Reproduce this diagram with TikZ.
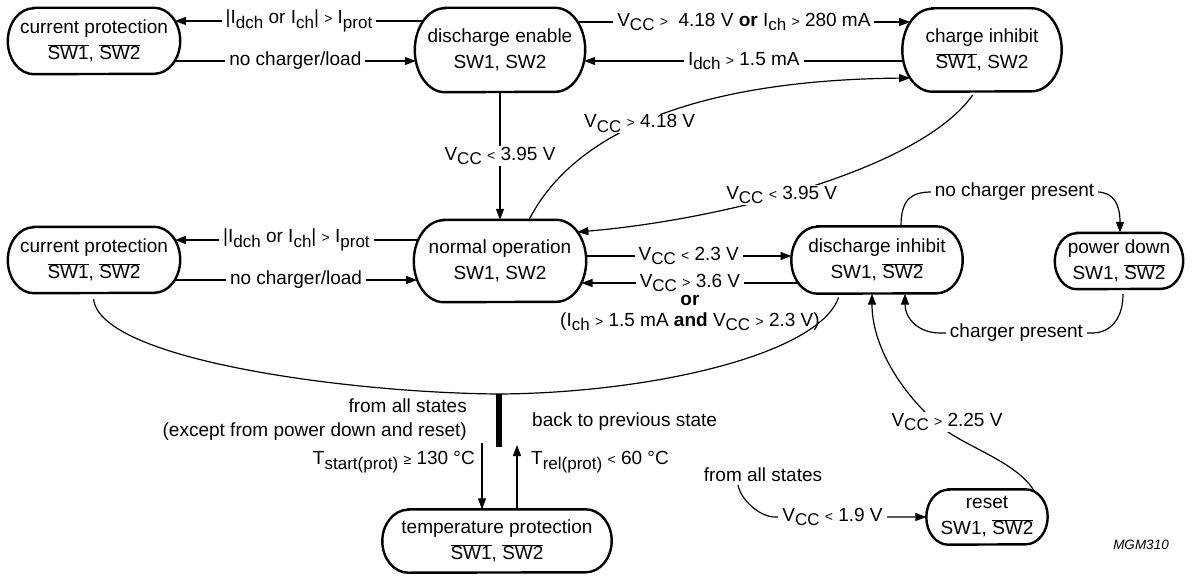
\documentclass[tikz,border=0pt]{standalone}
\usepackage{fontspec}
\setmainfont{Liberation Sans}
\usetikzlibrary{arrows.meta,calc}
\newcommand\sbs[1]{\raisebox{-0.45ex}{\fontsize{17}{17}\selectfont #1}}
\newcommand\rgt{{\fontsize{14}{14}\selectfont >}}
\newcommand\rlt{{\fontsize{14}{14}\selectfont <}}
\newcommand\rge{{\fontsize{14}{14}\selectfont ≥}}
\newcommand\ov[1]{$\overline{\mbox{#1}}$}
\begin{document}
\begin{tikzpicture}[x=1pt,y=-1pt,
  font=\fontsize{19}{26}\selectfont,
  box/.style={inner sep=0pt, align=center},
  boxline/.style={line width=2.4pt},
  conn/.style={line width=1.2pt, -{Triangle[length=11pt,width=8pt]}},
  plain/.style={line width=1.2pt},
  lbl/.style={fill=white, inner xsep=4pt, inner ysep=1pt}]
\useasboundingbox (0,0) rectangle (1192,578);

% states
\node[box, minimum width=172pt, minimum height=66pt] (cpa) at (94,41) {current protection\\\ov{SW1}, \ov{SW2}};
\node[box, minimum width=170pt, minimum height=84pt] (de) at (500,50) {discharge enable\\SW1, SW2};
\node[box, minimum width=159pt, minimum height=83pt] (ci) at (982,50) {charge inhibit\\\ov{SW1}, SW2};
\node[box, minimum width=172pt, minimum height=66pt] (cpb) at (94,260) {current protection\\\ov{SW1}, \ov{SW2}};
\node[box, minimum width=172pt, minimum height=82pt] (no) at (500,261) {normal operation\\SW1, SW2};
\node[box, minimum width=171pt, minimum height=67pt] (di) at (877,260) {discharge inhibit\\SW1, \ov{SW2}};
\node[box, minimum width=128pt, minimum height=56pt] (pd) at (1119,261) {power down\\SW1, \ov{SW2}};
\node[box, minimum width=229pt, minimum height=63pt] (tp) at (497,541) {temperature protection\\\ov{SW1}, \ov{SW2}};
\node[box, minimum width=121pt, minimum height=55pt] (rs) at (987,517) {reset\\SW1, \ov{SW2}};

\foreach \n/\rx/\ry in {cpa/26/33, de/30/42, ci/30/41.5, cpb/26/33, no/30/41, di/26/33.5, pd/22/28, tp/26/31.5, rs/22/27.5}
  \draw[boxline] ($(\n.north west)+(\rx,0)$) -- ($(\n.north east)+(-\rx,0)$)
     arc[start angle=90,end angle=-90,x radius=\rx pt,y radius=\ry pt]
     -- ($(\n.south west)+(\rx,0)$)
     arc[start angle=270,end angle=90,x radius=\rx pt,y radius=\ry pt] -- cycle;

% top row
\draw[conn] ($(de.west)+(8.3,-29)$) -- node[lbl]{|I\sbs{dch} or I\sbs{ch}| \rgt{} I\sbs{prot}} ($(cpa.east)+(-5.3,-20)$);
\draw[conn] ($(cpa.east)+(-5.3,20)$) -- node[lbl]{no charger/load} ($(de.west)+(1,11)$);
\draw[conn] ($(de.east)+(-7.6,-28)$) -- node[lbl]{V\sbs{CC} \rgt{}\ \ 4.18 V \textbf{or} I\sbs{ch} \rgt{} 280 mA} ($(ci.west)+(7.9,-28)$);
\draw[conn] ($(ci.west)+(1.1,11)$) -- node[lbl]{I\sbs{dch} \rgt{} 1.5 mA} ($(de.east)+(-1,11)$);

% vertical and curves between top and middle
\draw[conn] (de.south) -- node[lbl]{V\sbs{CC} \rlt{} 3.95 V} (no.north);
\draw[conn] ($(no.north)+(29,0)$) .. controls (575,130) and (700,80) .. node[lbl,pos=0.45]{V\sbs{CC} \rgt{} 4.18 V} ($(ci.west)+(7.9,28)$);
\draw[conn, shorten <=4pt] ($(ci.south)+(-7,0)$) .. controls (920,170) and (720,220) .. node[lbl,pos=0.56]{V\sbs{CC} \rlt{} 3.95 V} ($(no.east)+(-8.8,-29)$);

% middle row
\draw[conn] ($(no.west)+(4.2,-21)$) -- node[lbl]{|I\sbs{dch} or I\sbs{ch}| \rgt{} I\sbs{prot}} ($(cpb.east)+(-5.3,-20)$);
\draw[conn] ($(cpb.east)+(-5.3,20)$) -- node[lbl]{no charger/load} ($(no.west)+(3.4,19)$);
\draw[conn] ($(no.east)+(-0.2,-5)$) -- node[lbl]{V\sbs{CC} \rlt{} 2.3 V} ($(di.west)+(0.2,-4)$);
\draw[conn] ($(di.west)+(7.1,23)$) -- node[lbl](l36){V\sbs{CC} \rgt{} 3.6 V} ($(no.east)+(-4.7,22)$);
\node[anchor=north, align=center, inner sep=0pt, font=\fontsize{19}{21}\selectfont] (orl) at ([yshift=-1pt]l36.south) {\textbf{or}\\(I\sbs{ch} \rgt{} 1.5 mA \textbf{and} V\sbs{CC} \rgt{} 2.3 V)};

\draw[conn] ($(di.north)+(24,0)$) .. controls +(0,-28) and (912,192) .. (932,192) -- node[lbl]{no charger present} (1097,192) .. controls (1114,192) and (1120,205) .. ($(pd.north)+(1,0)$);
\draw[conn, shorten <=5pt] ($(pd.south)+(4,0)$) .. controls +(0,32) and (1108,333) .. (1093,333) -- node[lbl]{charger present} (940,333) .. controls (918,333) and (905,318) .. ($(di.south)+(28,0)$);

% collecting curve and bar
\coordinate (bt) at (499,394);
\coordinate (bb) at (499,447);
\draw[plain, shorten <=6pt, shorten >=4pt] ($(cpb.south)+(-1,0)$) .. controls (100,360) and (350,393) .. (bt) .. controls (650,393) and (818,355) .. ($(di.south)+(-37,0)$);
\draw[line width=6pt] (bt) -- (bb);

\node[anchor=east, align=right, inner sep=0pt, font=\fontsize{19}{24}\selectfont] (fas1) at (467,420) {from all states\\(except from power down and reset)};
\node[anchor=west, inner sep=0pt] (back) at (532,422) {back to previous state};

\coordinate (tsa) at (482,443);
\coordinate (tra) at (517,445);
\draw[conn] (tsa) -- ($(tp.north)+(-15,0)$);
\draw[conn] ($(tp.north)+(20,0)$) -- (tra);
\node[anchor=east, inner sep=0pt] (tsl) at (475,462) {T\sbs{start(prot)} \rge{} 130 °C};
\node[anchor=west, inner sep=0pt] (trl) at (531,462) {T\sbs{rel(prot)} \rlt{} 60 °C};

% reset
\node[inner sep=0pt] (fas) at (763,475) {from all states};
\draw[conn] ($(fas.south)+(-25,3)$) .. controls +(3,15) and (760,517) .. (775,517) -- node[lbl,pos=0.38]{V\sbs{CC} \rlt{} 1.9 V} (rs.west);
\draw[conn] ($(rs.east)+(-13,-25)$) .. controls (1018,462) and (965,447) .. (940,426) node[lbl, xshift=7pt, yshift=4pt]{V\sbs{CC} \rgt{} 2.25 V} .. controls (900,392) and (872,345) .. ($(di.south)+(-5,0)$);

\node[font=\fontsize{13.5}{16}\selectfont\itshape] (mgm) at (1141,545) {MGM310};
\end{tikzpicture}
\end{document}
